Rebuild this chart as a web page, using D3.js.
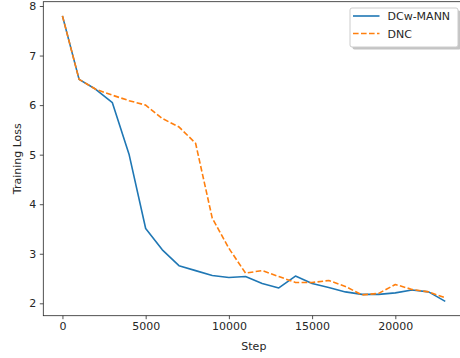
<!DOCTYPE html>
<html>
<head>
<meta charset="utf-8">
<script src="https://cdn.jsdelivr.net/npm/d3@7"></script>
<style>
  body { margin: 0; background: #fff; }
  text { font-family: "DejaVu Sans", sans-serif; fill: #262626; }
</style>
</head>
<body>
<script>
var steps = [0, 1000, 2000, 3000, 4000, 5000, 6000, 7000, 8000, 9000, 10000, 11000,
  12000, 13000, 14000, 15000, 16000, 17000, 18000, 19000, 20000, 21000, 22000, 23000];
var dcwMann = [7.80, 6.52, 6.32, 6.05, 5.01, 3.51, 3.08, 2.76, 2.66, 2.56, 2.52, 2.54,
  2.40, 2.31, 2.55, 2.40, 2.32, 2.23, 2.18, 2.18, 2.21, 2.27, 2.23, 2.04];
var dnc = [7.80, 6.52, 6.32, 6.20, 6.09, 6.00, 5.73, 5.56, 5.23, 3.72, 3.11, 2.61,
  2.66, 2.54, 2.42, 2.42, 2.46, 2.34, 2.17, 2.20, 2.38, 2.28, 2.23, 2.11];
var xTicks = [0, 5000, 10000, 15000, 20000];
var yTicks = [2, 3, 4, 5, 6, 7, 8];
var seriesNames = ["DCw-MANN", "DNC"];
var colors = ["#1f77b4", "#ff7f0e"];

var width = 460, height = 358;
var mLeft = 43.3, mRight = 464.4, mTop = 1.7, mBottom = 315.7;

const svg = d3.select("body")
  .append("svg")
  .attr("width", width)
  .attr("height", height);

const x = d3.scaleLinear().domain([-1150, 24150]).range([mLeft, mRight]);
const y = d3.scaleLinear().domain([1.75, 8.087]).range([mBottom, mTop]);

// lines
const line = d3.line().x(function(d) { return x(d[0]); }).y(function(d) { return y(d[1]); });
[dcwMann, dnc].forEach(function(vals, i) {
  svg.append("path")
    .datum(steps.map(function(s, j) { return [s, vals[j]]; }))
    .attr("fill", "none")
    .attr("stroke", colors[i])
    .attr("stroke-width", 1.6)
    .attr("stroke-linejoin", "round")
    .attr("stroke-dasharray", i === 1 ? "5.6,2.4" : null)
    .attr("d", line);
});

// axes
const xAxis = svg.append("g")
  .attr("transform", "translate(0," + mBottom + ")")
  .call(d3.axisBottom(x).tickValues(xTicks).tickFormat(d3.format("d")).tickSize(3.5).tickPadding(3.5));
const yAxis = svg.append("g")
  .attr("transform", "translate(" + mLeft + ",0)")
  .call(d3.axisLeft(y).tickValues(yTicks).tickFormat(d3.format("d")).tickSize(3.5).tickPadding(3.5));
[xAxis, yAxis].forEach(function(g) {
  g.select(".domain").remove();
  g.selectAll("line").attr("stroke", "#262626").attr("stroke-width", 0.8);
  g.selectAll("text").style("font-size", "11px").attr("fill", "#262626")
    .style("font-family", "DejaVu Sans, sans-serif");
});

// frame
svg.append("rect")
  .attr("x", mLeft).attr("y", mTop)
  .attr("width", mRight - mLeft).attr("height", mBottom - mTop)
  .attr("fill", "none").attr("stroke", "#262626").attr("stroke-width", 0.8);

svg.append("text")
  .attr("x", (mLeft + mRight) / 2).attr("y", 349.5)
  .attr("text-anchor", "middle")
  .style("font-size", "11px")
  .text("Step");
svg.append("text")
  .attr("transform", "translate(20.5," + ((mTop + mBottom) / 2) + ") rotate(-90)")
  .attr("text-anchor", "middle")
  .style("font-size", "11px")
  .text("Training Loss");

// legend
const lg = svg.append("g");
lg.append("rect")
  .attr("x", 352.5).attr("y", 10.5).attr("width", 108).attr("height", 39)
  .attr("rx", 2).attr("fill", "#8a8a8a").attr("opacity", 0.5);
lg.append("rect")
  .attr("x", 350).attr("y", 8).attr("width", 108).attr("height", 39)
  .attr("rx", 2).attr("fill", "#fff").attr("stroke", "#cccccc").attr("stroke-width", 1);
seriesNames.forEach(function(name, i) {
  var cy = 16 + i * 17.5;
  lg.append("line")
    .attr("x1", 353).attr("x2", 379.5).attr("y1", cy).attr("y2", cy)
    .attr("stroke", colors[i]).attr("stroke-width", 1.6)
    .attr("stroke-dasharray", i === 1 ? "5.6,2.4" : null);
  lg.append("text")
    .attr("x", 387.5).attr("y", cy + 4)
    .style("font-size", "11px")
    .text(name);
});
</script>
</body>
</html>
